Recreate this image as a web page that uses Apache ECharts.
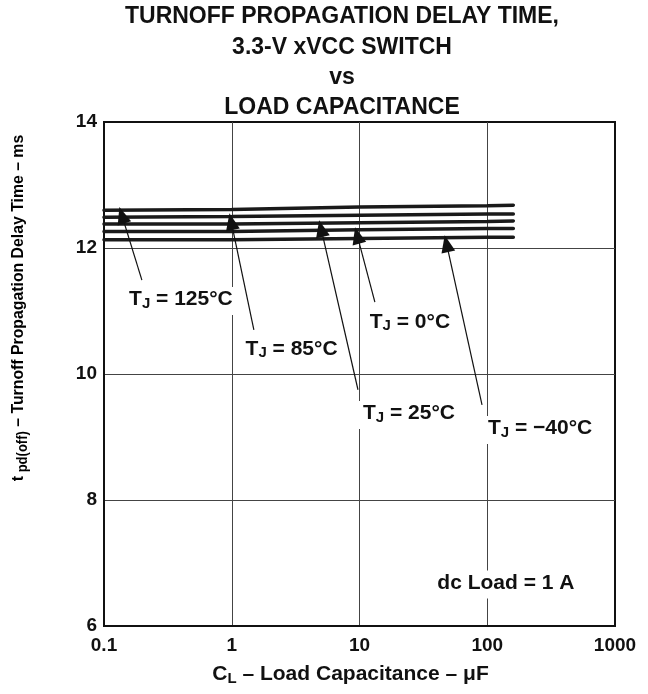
<!DOCTYPE html>
<html>
<head>
<meta charset="utf-8">
<script src="https://cdn.jsdelivr.net/npm/echarts@6/dist/echarts.min.js"></script>
<style>html,body{margin:0;padding:0;background:#fff}#c{width:648px;height:694px}</style>
</head>
<body>
<div id="c"></div>
<script>
// ---- data ----
var capacitance = [0.1, 1, 10, 100, 160];
var t125 = [12.60, 12.61, 12.65, 12.67, 12.68];
var t85  = [12.49, 12.50, 12.52, 12.54, 12.54];
var t25  = [12.38, 12.38, 12.40, 12.42, 12.43];
var t0   = [12.26, 12.26, 12.29, 12.31, 12.31];
var tm40 = [12.13, 12.13, 12.15, 12.17, 12.17];
var seriesNames = ['125', '85', '25', '0', '\u221240'];
var xTickLabels = ['0.1', '1', '10', '100', '1000'];
var yTicks = [6, 8, 10, 12, 14];
// annotation label anchors [x, y] and arrow [from, to]
var labelPos = [[0.40, 11.16], [2.94, 10.37], [24.4, 9.35], [24.8, 10.80], [259, 9.11]];
var arrowFrom = [[0.198, 11.49], [1.49, 10.70], [9.73, 9.75], [13.2, 11.14], [91, 9.51]];
var arrowTo = [[0.138, 12.52], [0.99, 12.42], [5.0, 12.31], [9.6, 12.20], [48.0, 12.07]];
var noteText = 'dc Load = 1 A';
var notePos = [140, 6.66];

var FONT = '"Liberation Sans", Arial, Helvetica, sans-serif';
var chart = echarts.init(document.getElementById('c'), null, {renderer: 'canvas'});

function pair(xs, ys) { return xs.map(function (x, i) { return [x, ys[i]]; }); }
var allY = [t125, t85, t25, t0, tm40];

function richSet(big, small, lh, drop) {
  return {
    t: {fontFamily: FONT, fontWeight: 'bold', fontSize: big, color: '#111', lineHeight: lh, verticalAlign: 'top'},
    s: {fontFamily: FONT, fontWeight: 'bold', fontSize: small, color: '#111', lineHeight: lh, verticalAlign: 'top', padding: [drop, 0, 0, 0]}
  };
}

var series = allY.map(function (ys, i) {
  return {
    type: 'line', name: seriesNames[i], data: pair(capacitance, ys),
    symbol: 'none', smooth: false, silent: true,
    lineStyle: {color: '#1a1a1a', width: 3.5, cap: 'round'}
  };
});

var labelData = labelPos.map(function (p, i) { return {value: [p[0], p[1]], name: seriesNames[i]}; });
labelData.push({value: notePos, name: 'note'});

series.push({
  type: 'scatter', silent: true, symbol: 'circle', symbolSize: 0,
  itemStyle: {color: '#fff', opacity: 1}, z: 5,
  data: labelData,
  label: {
    show: true, position: 'inside', backgroundColor: '#fff', padding: [2, 6, 2, 6],
    color: '#111', textBorderWidth: 0, opacity: 1,
    formatter: function (p) {
      if (p.name === 'note') return '{t|' + noteText + '}';
      return '{t|T}{s|J}{t| = ' + p.name + '\u00B0C}';
    },
    rich: richSet(21, 15, 24, 7)
  },
  markLine: {
    silent: true, animation: false,
    symbol: ['none', 'triangle'], symbolSize: [14, 17],
    label: {show: false},
    lineStyle: {color: '#111', width: 1.2, type: 'solid', opacity: 1},
    itemStyle: {color: '#111'},
    emphasis: {disabled: true},
    data: arrowFrom.map(function (f, i) {
      return [{coord: f, symbol: 'none'}, {coord: arrowTo[i], symbol: 'triangle'}];
    })
  }
});

chart.setOption({
  animation: false,
  backgroundColor: '#fff',
  grid: {left: 104, right: 33, top: 122, bottom: 68, show: true, borderColor: '#111', borderWidth: 2, backgroundColor: 'transparent'},
  xAxis: {
    type: 'log', logBase: 10, min: 0.1, max: 1000,
    axisLine: {show: true, lineStyle: {color: '#111', width: 2}},
    axisTick: {show: false},
    splitLine: {show: true, showMinLine: false, showMaxLine: false, lineStyle: {color: '#444', width: 1}},
    axisLabel: {
      margin: 10, fontFamily: FONT, fontWeight: 'bold', fontSize: 19, color: '#111',
      formatter: function (v) { var k = Math.round(Math.log10(v)) + 1; return xTickLabels[k] || ''; }
    },
    name: '{t|C}{s|L}{t| \u2013 Load Capacitance \u2013 \u03BCF}',
    nameLocation: 'middle', nameGap: 38,
    nameTextStyle: {rich: richSet(21, 15, 23, 7), padding: [0, 18, 0, 0]}
  },
  yAxis: {
    type: 'value', min: 6, max: 14, interval: 2,
    axisLine: {show: true, lineStyle: {color: '#111', width: 2}},
    axisTick: {show: false},
    splitLine: {show: true, showMinLine: false, showMaxLine: false, lineStyle: {color: '#444', width: 1}},
    axisLabel: {
      margin: 7, fontFamily: FONT, fontWeight: 'bold', fontSize: 19, color: '#111',
      formatter: function (v) { return yTicks.indexOf(v) >= 0 ? String(v) : ''; }
    }
  },
  graphic: [
    {
      type: 'text', silent: true, x: 342, y: 2,
      style: {
        textAlign: 'center', textVerticalAlign: 'top',
        text: 'TURNOFF PROPAGATION DELAY TIME,\n3.3-V xVCC SWITCH\nvs\nLOAD CAPACITANCE',
        font: 'bold 23px ' + FONT, fill: '#111', lineHeight: 30.3
      }
    },
    {
      type: 'text', silent: true, x: 20, y: 308, rotation: Math.PI / 2, scaleX: 0.93,
      style: {
        text: '{t|t}{s| pd(off)}{t| \u2013 Turnoff Propagation Delay Time \u2013 ms}',
        rich: richSet(17, 14, 20, 6), align: 'center', verticalAlign: 'middle'
      }
    }
  ],
  series: series
});
</script>
</body>
</html>
